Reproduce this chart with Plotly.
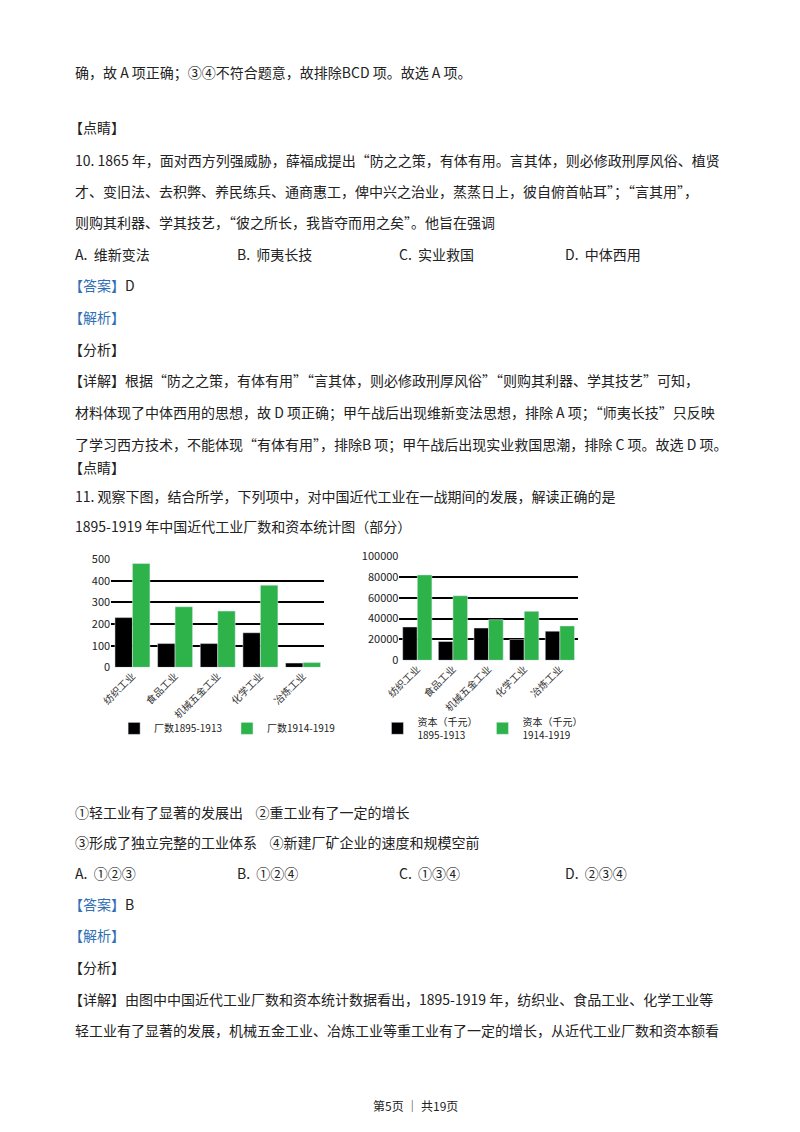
import plotly.graph_objects as go

categories = ["纺织工业", "食品工业", "机械五金工业", "化学工业", "冶炼工业"]
factories_1895_1913 = [230, 110, 110, 160, 20]
factories_1914_1919 = [480, 280, 260, 380, 22]
capital_1895_1913 = [32000, 18000, 31000, 20000, 28000]
capital_1914_1919 = [82000, 62000, 39000, 47000, 33000]

W, H = 800, 1132
BLK, GRN = "#000000", "#2db34a"
fig = go.Figure()
fig.add_trace(go.Bar(x=categories, y=factories_1895_1913, name="厂数1895-1913", marker_color=BLK, xaxis="x", yaxis="y", legend="legend"))
fig.add_trace(go.Bar(x=categories, y=factories_1914_1919, name="厂数1914-1919", marker_color=GRN, xaxis="x", yaxis="y", legend="legend"))
fig.add_trace(go.Bar(x=categories, y=capital_1895_1913, name="资本（千元）<br>1895-1913", marker_color=BLK, xaxis="x2", yaxis="y2", legend="legend2"))
fig.add_trace(go.Bar(x=categories, y=capital_1914_1919, name="资本（千元）<br>1914-1919", marker_color=GRN, xaxis="x2", yaxis="y2", legend="legend2"))

def px(x): return max(0.0, (x - 24) / 0.98) / W
def py(y): return 1 - ((y - 18.8) / 0.975) / H

ax = dict(showgrid=False, tickangle=-45, tickfont=dict(size=10, color="#333", family="Noto Sans CJK SC"), showline=False, ticks="")
ay = dict(showgrid=True, gridcolor="#000", gridwidth=1.5, tickfont=dict(size=11, color="#222"), zeroline=False, showline=False)
fig.update_layout(
    width=W, height=H, margin=dict(l=0, r=0, t=0, b=0), paper_bgcolor="white", plot_bgcolor="white",
    barmode="group", bargap=0.18, bargroupgap=0,
    font=dict(family="Noto Sans CJK SC", size=14, color="#222"),
    xaxis=dict(domain=[px(112), px(325)], anchor="y", **ax),
    yaxis=dict(domain=[py(662), py(555)], range=[0, 500], dtick=100, anchor="x", **ay),
    xaxis2=dict(domain=[px(400), px(578)], anchor="y2", **ax),
    yaxis2=dict(domain=[py(655), py(552)], range=[0, 100000], dtick=20000, tickformat="d", anchor="x2", **ay),
    legend=dict(orientation="h", x=px(115), y=py(708), xanchor="left", yanchor="top", font=dict(size=10), bgcolor="rgba(0,0,0,0)"),
    legend2=dict(orientation="h", x=px(378), y=py(703), xanchor="left", yanchor="top", font=dict(size=10), bgcolor="rgba(0,0,0,0)"),
)

B = "#2f6fb5"
lines = [
    (73, 74, "确，故 A 项正确；③④不符合题意，故排除BCD 项。故选 A 项。"),
    (128, 68, "【点睛】"),
    (160, 74, "10. 1865 年，面对西方列强威胁，薛福成提出“防之之策，有体有用。言其体，则必修政刑厚风俗、植贤"),
    (191, 74, "才、变旧法、去积弊、养民练兵、通商惠工，俾中兴之治业，蒸蒸日上，彼自俯首帖耳”；“言其用”，"),
    (222, 74, "则购其利器、学其技艺，“彼之所长，我皆夺而用之矣”。他旨在强调"),
    (253, 74, "A.  维新变法"), (253, 236, "B.  师夷长技"), (253, 398, "C.  实业救国"), (253, 563, "D.  中体西用"),
    (284, 68, f"<span style='color:{B}'>【答案】</span>D"),
    (315, 68, f"<span style='color:{B}'>【解析】</span>"),
    (347, 68, "【分析】"),
    (378, 68, "【详解】根据“防之之策，有体有用”“言其体，则必修政刑厚风俗”“则购其利器、学其技艺”可知，"),
    (409, 74, "材料体现了中体西用的思想，故 D 项正确；甲午战后出现维新变法思想，排除 A 项；“师夷长技”只反映"),
    (441, 74, "了学习西方技术，不能体现“有体有用”，排除B 项；甲午战后出现实业救国思潮，排除 C 项。故选 D 项。"),
    (464, 68, "【点睛】"),
    (493, 74, "11. 观察下图，结合所学，下列项中，对中国近代工业在一战期间的发展，解读正确的是"),
    (522, 74, "1895-1919 年中国近代工业厂数和资本统计图（部分）"),
    (805, 74, "①轻工业有了显著的发展出    ②重工业有了一定的增长"),
    (835, 74, "③形成了独立完整的工业体系    ④新建厂矿企业的速度和规模空前"),
    (865, 74, "A.  ①②③"), (865, 236, "B.  ①②④"), (865, 398, "C.  ①③④"), (865, 563, "D.  ②③④"),
    (896, 68, f"<span style='color:{B}'>【答案】</span>B"),
    (927, 68, f"<span style='color:{B}'>【解析】</span>"),
    (958, 68, "【分析】"),
    (990, 68, "【详解】由图中中国近代工业厂数和资本统计数据看出，1895-1919 年，纺织业、食品工业、化学工业等"),
    (1021, 74, "轻工业有了显著的发展，机械五金工业、冶炼工业等重工业有了一定的增长，从近代工业厂数和资本额看"),
]
for y, x, t in lines:
    fig.add_annotation(x=px(x), y=py(y), xref="paper", yref="paper", xanchor="left", yanchor="middle",
                       text=t, showarrow=False, font=dict(size=14, color="#222"))
fig.add_annotation(x=0.5, y=py(1106), xref="paper", yref="paper", text="第5页 ｜ 共19页", showarrow=False,
                   font=dict(size=12, color="#222"))
fig.write_html("out.html")
